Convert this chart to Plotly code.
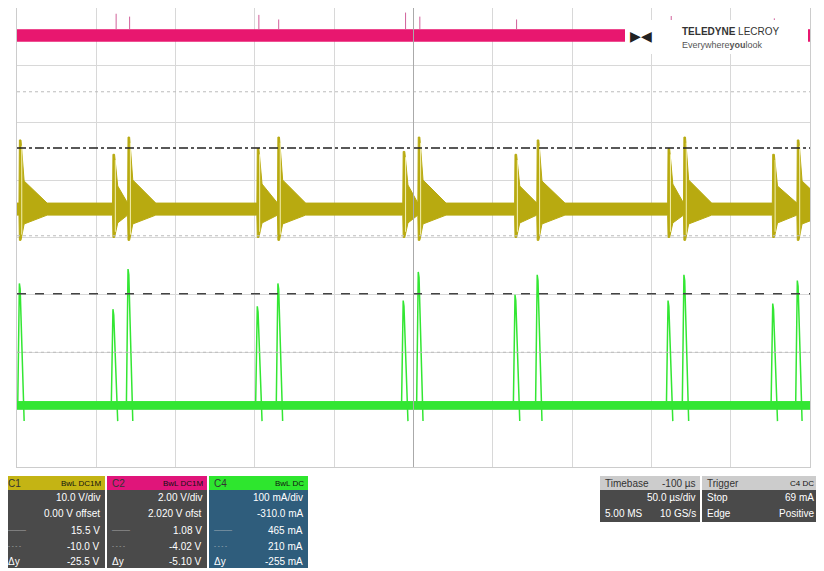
import plotly.graph_objects as go

# time in divisions (50 us/div), vertical in divisions (0 = bottom)
burst_t = [0.03, 1.21, 1.40, 3.03, 3.29, 4.87, 5.06, 6.28, 6.56, 8.21, 8.41, 9.53, 9.84]
c1_hi = [5.70, 5.45, 5.75, 5.55, 5.75, 5.50, 5.75, 5.45, 5.70, 5.55, 5.75, 5.45, 5.70]
c1_lo = [3.95, 4.00, 3.95, 4.00, 3.95, 4.00, 3.95, 4.00, 3.95, 4.00, 3.95, 4.00, 3.95]
c1_band = [4.39, 4.60]
c4_peak = [3.20, 2.75, 3.45, 2.80, 3.20, 2.90, 3.40, 3.00, 3.35, 2.90, 3.35, 2.85, 3.25]
c4_band = [1.00, 1.14]
c2_band = [7.41, 7.62]
c2_spike_t = [1.25, 1.42, 3.05, 3.30, 4.90, 5.08, 6.30, 8.25, 9.55]
c2_spike_h = [7.90, 7.85, 7.88, 7.80, 7.92, 7.85, 7.80, 7.86, 7.82]
cursor_c1 = 5.56
cursor_c4 = 3.02

fig = go.Figure()

# ---------- C2 (magenta) ----------
fig.add_trace(go.Scatter(x=[0, 10], y=[c2_band[0]] * 2, mode="lines",
                         line=dict(color="#e8176f", width=0), showlegend=False))
fig.add_trace(go.Scatter(x=[0, 10], y=[c2_band[1]] * 2, mode="lines", fill="tonexty",
                         fillcolor="#e8176f", line=dict(color="#e8176f", width=1), showlegend=False))
sx, sy = [], []
for t, h in zip(c2_spike_t, c2_spike_h):
    sx += [t, t, None]
    sy += [c2_band[1], h, None]
fig.add_trace(go.Scatter(x=sx, y=sy, mode="lines", line=dict(color="#d0609a", width=1),
                         showlegend=False))


# ---------- C1 (yellow) envelopes ----------
def envelope(base, peaks, decay=0.35):
    xs, ys = [0.0], [base]
    for i, t in enumerate(burst_t):
        end = t + decay
        if i + 1 < len(burst_t):
            end = min(end, burst_t[i + 1] - 0.005)
        xs += [t - 0.005, t, t + 0.02, t + 0.06, end]
        mid = base + (peaks[i] - base) * 0.35
        ys += [base, peaks[i], peaks[i], mid, base]
    xs.append(10.0)
    ys.append(base)
    return xs, ys


lx, ly = envelope(c1_band[0], c1_lo)
ux, uy = envelope(c1_band[1], c1_hi)
yel = "#b8aa10"
fig.add_trace(go.Scatter(x=lx, y=ly, mode="lines", line=dict(color=yel, width=1), showlegend=False))
fig.add_trace(go.Scatter(x=ux, y=uy, mode="lines", line=dict(color=yel, width=1), showlegend=False))
fig.add_trace(go.Scatter(x=ux + lx[::-1], y=uy + ly[::-1], mode="lines", fill="toself",
                         fillcolor=yel, line=dict(color=yel, width=0), showlegend=False))
bx, by = [], []
for i, t in enumerate(burst_t):
    bx += [t + 0.03, t + 0.03, None]
    by += [c1_lo[i] + 0.1, c1_hi[i] - 0.1, None]
fig.add_trace(go.Scatter(x=bx, y=by, mode="lines", line=dict(color="#f4f0b0", width=1),
                         showlegend=False))

# ---------- C4 (green) ----------
grn = "#33e633"
fig.add_trace(go.Scatter(x=[0, 10], y=[c4_band[0]] * 2, mode="lines",
                         line=dict(color=grn, width=0), showlegend=False))
fig.add_trace(go.Scatter(x=[0, 10], y=[c4_band[1]] * 2, mode="lines", fill="tonexty",
                         fillcolor=grn, line=dict(color=grn, width=1), showlegend=False))
gx, gy = [], []
for t, p in zip(burst_t, c4_peak):
    gx += [t - 0.02, t, t + 0.01, t + 0.04, t + 0.06, None]
    gy += [c4_band[1], p, p - 0.1, c4_band[0] + 0.6, c4_band[0] - 0.2, None]
fig.add_trace(go.Scatter(x=gx, y=gy, mode="lines", line=dict(color=grn, width=1.5),
                         showlegend=False))

# ---------- cursors / reference lines ----------
fig.add_hline(y=cursor_c1, line=dict(color="#222222", width=1.5, dash="dashdot"))
fig.add_hline(y=cursor_c4, line=dict(color="#444444", width=1.5, dash="dash"))
for yv in [6.54, 2.0, 4.03]:
    fig.add_hline(y=yv, line=dict(color="#bbbbbb", width=1, dash="dot"))
fig.add_vline(x=5, line=dict(color="#aaaaaa", width=1))

for txt_, yv, col in [("C2", 5.5, "#e8176f"), ("C1", 4.03, yel), ("C4", 1.0, grn)]:
    fig.add_annotation(x=-0.08, y=yv, text=txt_, textangle=90, showarrow=False,
                       font=dict(size=8, color=col), xanchor="center")

# ---------- info boxes ----------
W, H = 793.0, 459.0


def px(X):
    return (X - 17) / W


def py(Y):
    return (467 - Y) / H


def box(x0, x1, y0, y1, color):
    fig.add_shape(type="rect", xref="paper", yref="paper", x0=px(x0), x1=px(x1),
                  y0=py(y1), y1=py(y0), fillcolor=color, line=dict(width=0), layer="above")


def txt(X, Y, s, anchor="right", color="white", size=10):
    fig.add_annotation(xref="paper", yref="paper", x=px(X), y=py(Y), text=s, showarrow=False,
                       xanchor=anchor, yanchor="middle", font=dict(size=size, color=color))


rows = [497, 513, 530, 546, 561]
chan_boxes = [
    (3, 105, "#c4b414", "#4a4a4a", "C1", "DC1M",
     ["10.0 V/div", "0.00 V offset", "15.5 V", "-10.0 V", "-25.5 V"]),
    (107, 207, "#e0157a", "#4a4a4a", "C2", "DC1M",
     ["2.00 V/div", "2.020 V ofst", "1.08 V", "-4.02 V", "-5.10 V"]),
    (209, 308, "#2ee62e", "#2f5d7c", "C4", "DC",
     ["100 mA/div", "-310.0 mA", "465 mA", "210 mA", "-255 mA"]),
]
for x0, x1, hc, bc, name, cpl, vals in chan_boxes:
    box(x0, x1, 476, 490, hc)
    box(x0, x1, 490, 568, bc)
    txt(x0 + 3, 483, name, "left", "#333333")
    txt(x1 - 2, 483, "BwL " + cpl, "right", "#111111", 8)
    for r, v in zip(rows, vals):
        txt(x1 - 3, r, v)
    txt(x0 + 3, 530, "———", "left", "#cccccc", 6)
    txt(x0 + 3, 546, "- - - -", "left", "#cccccc", 6)
    txt(x0 + 3, 561, "Δy", "left")

box(600, 700, 476, 490, "#cccccc")
box(600, 700, 490, 522, "#4a4a4a")
txt(603, 483, "Timebase", "left", "#333333")
txt(698, 483, "-100 µs", "right", "#333333")
txt(698, 498, "50.0 µs/div")
txt(603, 514, "5.00 MS", "left")
txt(698, 514, "10 GS/s")

box(702, 818, 476, 490, "#cccccc")
box(702, 818, 490, 522, "#4a4a4a")
txt(705, 483, "Trigger", "left", "#333333")
txt(816, 483, "C4 DC", "right", "#111111", 8)
txt(705, 498, "Stop", "left")
txt(816, 498, "69 mA")
txt(705, 514, "Edge", "left")
txt(816, 514, "Positive")

# logo
fig.add_shape(type="rect", xref="paper", yref="paper", x0=px(625), x1=px(808), y0=py(54),
              y1=py(20), fillcolor="white", line=dict(width=0), layer="above")
txt(680, 31, "<b>TELEDYNE</b> LECROY", "left", "#333333", 10)
txt(680, 45, "Everywhere<b>you</b>look", "left", "#555555", 9)
txt(628, 36, "▶◀", "left", "#222222", 14)

fig.update_layout(
    width=816, height=563,
    margin=dict(l=9, r=14, t=0, b=104),
    paper_bgcolor="white", plot_bgcolor="white",
    xaxis=dict(range=[0, 10], dtick=1, showgrid=True, gridcolor="#d8d8d8", showticklabels=False,
               zeroline=False, showline=True, linecolor="#cccccc", mirror=True, ticks=""),
    yaxis=dict(range=[0, 8], dtick=1, showgrid=True, gridcolor="#d8d8d8", showticklabels=False,
               zeroline=False, showline=True, linecolor="#cccccc", mirror=True, ticks=""),
    font=dict(family="Liberation Sans"),
)

fig.write_html("out.html")
